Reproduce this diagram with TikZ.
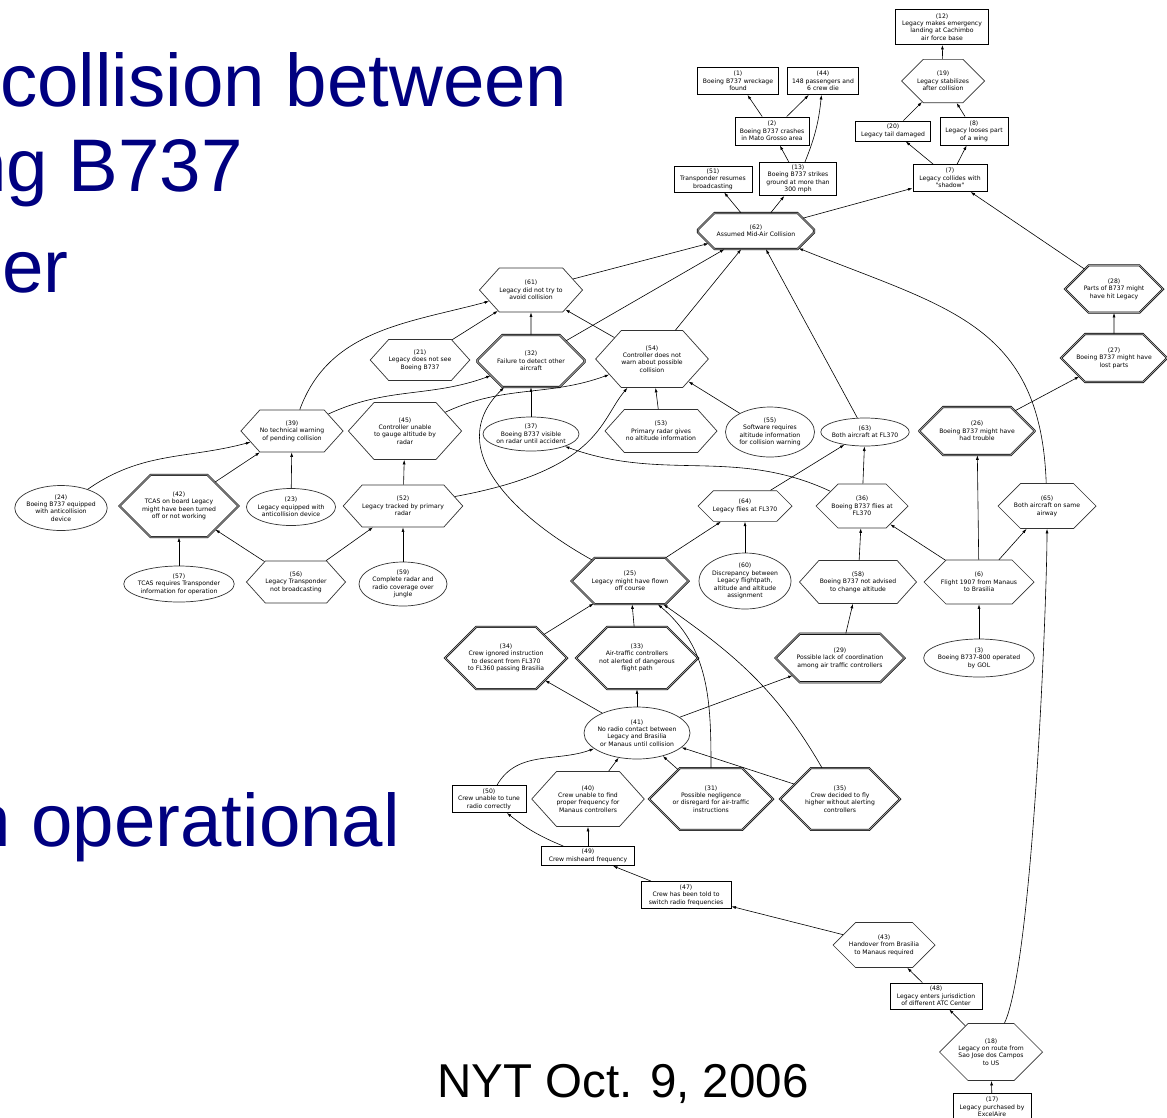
\documentclass[tikz,border=0pt]{standalone}
\usepackage{fontspec}
\usepackage{tikz}
\usetikzlibrary{shapes,arrows.meta}
\newfontfamily\graphfont{DejaVu Sans}
\newfontfamily\slidefont{Liberation Sans}
\definecolor{slideblue}{RGB}{0,0,128}

\begin{document}
\begin{tikzpicture}[x=1pt,y=1pt]
\tikzset{
	every node/.style = {font=\graphfont\fontsize{6.1}{7.4}\selectfont, align=center, inner sep=0pt},
	box node/.style 2 args = {rectangle, draw, line width=0.9pt, inner xsep=3pt, minimum width=#1pt, minimum height=#2pt},
	oct node/.style 2 args = {chamfered rectangle, draw=black!80, line width=0.7pt, minimum width=#1pt, minimum height=#2pt,
		chamfered rectangle xsep=0.29*#1pt, chamfered rectangle ysep=0.29*#2pt},
	dbl node/.style 2 args = {oct node={#1}{#2}, draw=black, line width=0.55pt, double=black!40, double distance=1pt},
	hex node/.style 2 args = {signal, signal to=east and west, signal pointer angle=96, draw=black!80, line width=0.7pt,
		minimum width=#1pt, minimum height=#2pt},
	ell node/.style 2 args = {ellipse, draw=black!80, line width=0.7pt, inner xsep=-2pt, inner ysep=1pt, minimum width=#1pt, minimum height=#2pt},
	slide text/.style = {font=\slidefont\fontsize{74.5}{80}\selectfont, text=slideblue, anchor=base west},
	>={Latex[length=4.5pt,width=3pt]},
}
\fill[white] (0,0) rectangle (1167,-1117);
\useasboundingbox (0,0) rectangle (1167,-1117);

% slide text behind the graph
\node (t1) [slide text] at (0,-106) {collision between};
\node (t2) [slide text, anchor=base east] at (243,-191) {ng B737};
\node (t3) [slide text] at (2,-292) {er};
\node (t4) [slide text] at (-31,-846) {n operational};
\node (src) [font=\slidefont\fontsize{47.5}{52}\selectfont, anchor=base west] at (437,-1097) {NYT Oct. 9, 2006};

% top
\node (n12) [box node={93}{35}] at (942,-27) {(12)\\Legacy makes emergency\\landing at Cachimbo\\air force base};
\node (n1) [box node={81}{27}] at (738,-81) {(1)\\Boeing B737 wreckage\\found};
\node (n44) [box node={71}{27}] at (823,-81) {(44)\\148 passengers and\\6 crew die};
\node (n19) [oct node={83}{41}] at (943,-81) {(19)\\Legacy stabilizes\\after collision};
\node (n2) [box node={74}{28}] at (772,-131) {(2)\\Boeing B737 crashes\\in Mato Grosso area};
\node (n20) [box node={75}{20}] at (893,-131) {(20)\\Legacy tail damaged};
\node (n8) [box node={68}{28}] at (974,-131) {(8)\\Legacy looses part\\of a wing};
\node (n51) [box node={78}{26}] at (713,-179) {(51)\\Transponder resumes\\broadcasting};
\node (n13) [box node={77}{33}] at (798,-179) {(13)\\Boeing B737 strikes\\ground at more than\\300 mph};
\node (n7) [box node={74}{27}] at (950,-178) {(7)\\Legacy collides with\\"shadow"};
\node (n62) [dbl node={116}{36}] at (756,-231) {(62)\\Assumed Mid-Air Collision};

% middle
\node (n61) [hex node={97}{44}] at (531,-290) {(61)\\Legacy did not try to\\avoid collision};
\node (n28) [dbl node={98}{46}] at (1114,-289) {(28)\\Parts of B737 might\\have hit Legacy};
\node (n21) [hex node={96}{41}] at (420,-360) {(21)\\Legacy does not see\\Boeing B737};
\node (n32) [dbl node={107}{52}] at (531,-361) {(32)\\Failure to detect other\\aircraft};
\node (n54) [hex node={105}{57}] at (652,-359) {(54)\\Controller does not\\warn about possible\\collision};
\node (n27) [dbl node={106}{47}] at (1114,-358) {(27)\\Boeing B737 might have\\lost parts};
\node (n39) [hex node={101}{42}] at (292,-431) {(39)\\No technical warning\\of pending collision};
\node (n45) [hex node={108}{57}] at (405,-431) {(45)\\Controller unable\\to gauge altitude by\\radar};
\node (n37) [ell node={96}{34}] at (531,-434) {(37)\\Boeing B737 visible\\on radar until accident};
\node (n53) [hex node={112}{43}] at (661,-431) {(53)\\Primary radar gives\\no altitude information};
\node (n55) [ell node={89}{50}] at (770,-432) {(55)\\Software requires\\altitude information\\for collision warning};
\node (n63) [ell node={86}{28}] at (865,-432) {(63)\\Both aircraft at FL370};
\node (n26) [dbl node={115}{48}] at (977,-431) {(26)\\Boeing B737 might have\\had trouble};
\node (n24) [ell node={92}{45}] at (61,-508) {(24)\\Boeing B737 equipped\\with anticollision\\device};
\node (n42) [dbl node={119}{59}] at (179,-506) {(42)\\TCAS on board Legacy\\might have been turned\\off or not working};
\node (n23) [ell node={89}{37}] at (291,-507) {(23)\\Legacy equipped with\\anticollision device};
\node (n52) [hex node={116}{42}] at (403,-506) {(52)\\Legacy tracked by primary\\radar};
\node (n64) [oct node={94}{30}] at (745,-506) {(64)\\Legacy flies at FL370};
\node (n36) [oct node={92}{42}] at (862,-506) {(36)\\Boeing B737 flies at\\FL370};
\node (n65) [oct node={98}{42}] at (1047,-506) {(65)\\Both aircraft on same\\airway};
\node (n57) [ell node={108}{36}] at (179,-584) {(57)\\TCAS requires Transponder\\information for operation};
\node (n56) [hex node={94}{42}] at (296,-582) {(56)\\Legacy Transponder\\not broadcasting};
\node (n59) [ell node={88}{44}] at (403,-584) {(59)\\Complete radar and\\radio coverage over\\jungle};
\node (n25) [dbl node={117}{46}] at (630,-581) {(25)\\Legacy might have flown\\off course};
\node (n60) [ell node={92}{56}] at (745,-581) {(60)\\Discrepancy between\\Legacy flightpath,\\altitude and altitude\\assignment};
\node (n58) [hex node={117}{43}] at (858,-582) {(58)\\Boeing B737 not advised\\to change altitude};
\node (n6) [oct node={110}{42}] at (979,-582) {(6)\\Flight 1907 from Manaus\\to Brasilia};

% lower
\node (n34) [dbl node={122}{59}] at (506,-658) {(34)\\Crew ignored instruction\\to descent from FL370\\to FL360 passing Brasilia};
\node (n33) [dbl node={122}{59}] at (637,-658) {(33)\\Air-traffic controllers\\not alerted of dangerous\\flight path};
\node (n29) [dbl node={129}{48}] at (840,-658) {(29)\\Possible lack of coordination\\among air traffic controllers};
\node (n3) [ell node={107}{38}] at (979,-658) {(3)\\Boeing B737-800 operated\\by GOL};
\node (n41) [ell node={106}{52}] at (637,-733) {(41)\\No radio contact between\\Legacy and Brasilia\\or Manaus until collision};
\node (n50) [box node={74}{27}] at (489,-799) {(50)\\Crew unable to tune\\radio correctly};
\node (n40) [hex node={107}{55}] at (588,-799) {(40)\\Crew unable to find\\proper frequency for\\Manaus controllers};
\node (n31) [dbl node={124}{60}] at (711,-799) {(31)\\Possible negligence\\or disregard for air-traffic\\instructions};
\node (n35) [dbl node={120}{60}] at (840,-799) {(35)\\Crew decided to fly\\higher without alerting\\controllers};
\node (n49) [box node={93}{19}] at (588,-856) {(49)\\Crew misheard frequency};
\node (n47) [box node={90}{27}] at (686,-895) {(47)\\Crew has been told to\\switch radio frequencies};
\node (n43) [oct node={102}{42}] at (884,-945) {(43)\\Handover from Brasilia\\to Manaus required};
\node (n48) [box node={92}{26}] at (936,-996) {(48)\\Legacy enters jurisdiction\\of different ATC Center};
\node (n18) [oct node={103}{52}] at (991,-1052) {(18)\\Legacy on route from\\Sao Jose dos Campos\\to US};
\node (n17) [box node={78}{27}] at (992,-1107) {(17)\\Legacy purchased by\\ExcelAire};

% straight connectors
\begin{scope}[line width=0.6pt]
\foreach \a/\b in {n19/n12, n2/n1, n2/n44, n13/n2, n20/n19, n8/n19, n7/n20, n7/n8,
	n62/n51, n62/n13, n62/n7, n28/n7, n61/n62, n32/n62, n54/n62, n63/n62,
	n27/n28, n26/n27, n21/n61, n32/n61, n54/n61, n37/n32, n53/n54, n55/n54,
	n42/n39, n23/n39, n52/n45, n57/n42, n56/n42, n56/n52, n59/n52,
	n64/n63, n36/n63, n25/n64, n60/n64, n6/n36, n6/n26, n6/n65, n3/n6,
	n58/n36, n29/n58, n34/n25, n33/n25, n41/n34, n41/n33, n41/n29,
	n40/n41, n31/n41, n35/n41, n49/n40, n47/n49, n43/n47, n48/n43,
	n18/n48, n17/n18}
	\draw[->] (\a) -- (\b);

% curved connectors
\draw[->] (n13) to[bend right=8] (n44);
\draw[->] (n65) to[out=92,in=-22,looseness=1.2] (n62);
\draw[->] (n39) to[out=70,in=195] (n61);
\draw[->] (n39) to[out=25,in=200] (n32);
\draw[->] (n45) to[out=25,in=200] (n54);
\draw[->] (n52) .. controls (600,-470) and (600,-420) .. (n54);
\draw[->] (n25) .. controls (520,-520) and (440,-450) .. (n32);
\draw[->] (n24) to[out=35,in=195] (n39);
\draw[->] (n36) to[out=155,in=-20] (n37);
\draw[->] (n31) to[out=90,in=-40] (n25);
\draw[->] (n35) to[out=120,in=-35] (n25);
\draw[->] (n50) to[out=60,in=200] (n41);
\draw[->] (n49) to[bend left=8] (n50);
\draw[->] (n18) to[out=65,in=-90,looseness=0.35] (n65);
\end{scope}

\end{tikzpicture}
\end{document}
